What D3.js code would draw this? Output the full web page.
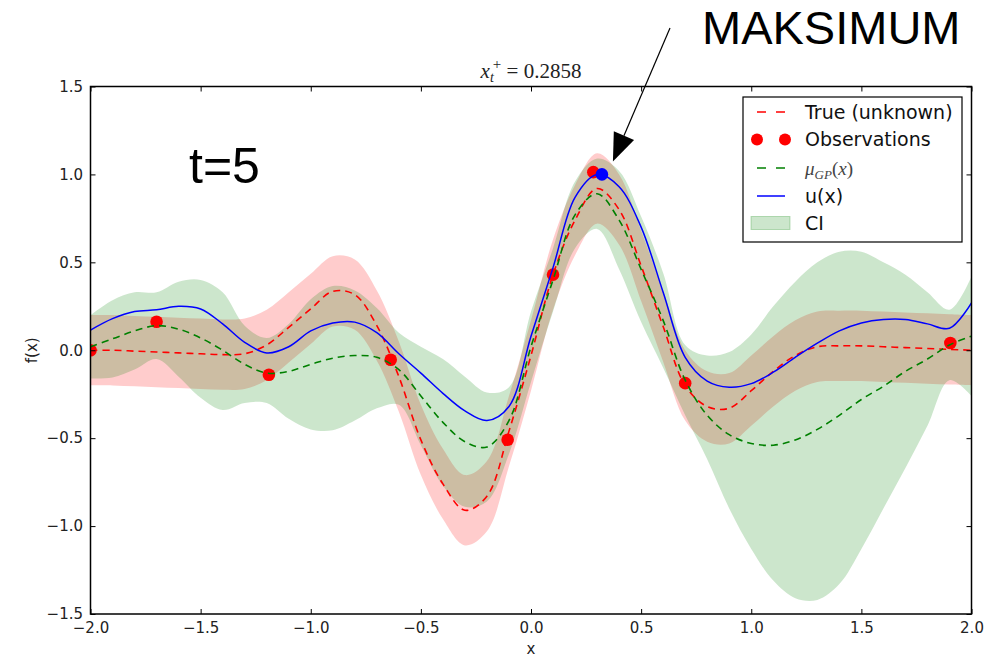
<!DOCTYPE html>
<html>
<head>
<meta charset="utf-8">
<script src="https://cdn.jsdelivr.net/npm/d3@7"></script>
<style>
  body { margin: 0; background: #fff; }
  svg { display: block; }
</style>
</head>
<body>
<div id="chart"></div>
<script>
// sample grid for all curves
var xGrid = [-2.0, -1.9, -1.8, -1.7, -1.6, -1.5, -1.4, -1.3, -1.2, -1.1,
             -1.0, -0.9, -0.8, -0.7, -0.6, -0.5, -0.4, -0.3, -0.2, -0.1,
              0.0,  0.1,  0.2,  0.3,  0.4,  0.5,  0.6,  0.7,  0.8,  0.9,
              1.0,  1.1,  1.2,  1.3,  1.4,  1.5,  1.6,  1.7,  1.8,  1.9, 2.0];

// true (unknown) function
var trueY = [0.0, 0.0, -0.005, -0.01, -0.015, -0.02, -0.025, -0.02, 0.03, 0.13,
             0.235, 0.335, 0.316, 0.14, -0.15, -0.51, -0.76, -0.91, -0.83, -0.46,
             -0.03, 0.43, 0.74, 0.92, 0.80, 0.48, 0.135, -0.2, -0.32, -0.33,
             -0.23, -0.12, -0.03, 0.02, 0.025, 0.025, 0.02, 0.015, 0.01, 0.005, 0.0];
// noise band around the true function (pink)
var trueUpper = [0.2, 0.2, 0.195, 0.19, 0.185, 0.18, 0.175, 0.18, 0.23, 0.33,
                 0.435, 0.535, 0.516, 0.34, 0.05, -0.31, -0.56, -0.71, -0.63, -0.26,
                 0.17, 0.63, 0.94, 1.12, 1.0, 0.68, 0.335, 0.0, -0.12, -0.13,
                 -0.03, 0.08, 0.17, 0.22, 0.225, 0.225, 0.22, 0.215, 0.21, 0.205, 0.2];
var trueLower = [-0.2, -0.2, -0.205, -0.21, -0.215, -0.22, -0.225, -0.22, -0.17, -0.07,
                 0.035, 0.135, 0.116, -0.06, -0.35, -0.71, -0.96, -1.11, -1.03, -0.66,
                 -0.23, 0.23, 0.54, 0.72, 0.6, 0.28, -0.065, -0.4, -0.52, -0.53,
                 -0.43, -0.32, -0.23, -0.18, -0.175, -0.175, -0.18, -0.185, -0.19, -0.195, -0.2];

// GP mean
var muGP = [0.02, 0.065, 0.11, 0.14, 0.12, 0.07, 0.0, -0.08, -0.13, -0.12,
            -0.08, -0.045, -0.03, -0.04, -0.11, -0.26, -0.41, -0.52, -0.55, -0.40,
            0.02, 0.40, 0.77, 0.89, 0.74, 0.46, 0.17, -0.17, -0.37, -0.48,
            -0.53, -0.54, -0.51, -0.45, -0.37, -0.28, -0.205, -0.12, -0.05, 0.03, 0.08];

// acquisition u(x)
var uX = [0.115, 0.18, 0.22, 0.23, 0.25, 0.235, 0.15, 0.045, -0.015, 0.02,
          0.11, 0.155, 0.16, 0.10, -0.02, -0.13, -0.245, -0.345, -0.40, -0.32,
          0.08, 0.47, 0.87, 1.0, 0.93, 0.70, 0.33, -0.04, -0.175, -0.21,
          -0.19, -0.125, -0.04, 0.04, 0.11, 0.155, 0.175, 0.175, 0.15, 0.125, 0.27];

// confidence interval
var ciLower = [-0.16, -0.155, -0.11, -0.05, -0.15, -0.27, -0.34, -0.30, -0.30, -0.39,
               -0.45, -0.455, -0.40, -0.33, -0.31, -0.54, -0.77, -0.89, -0.86, -0.59,
               -0.18, 0.22, 0.58, 0.69, 0.46, 0.16, -0.10, -0.37, -0.62, -0.90,
               -1.13, -1.31, -1.41, -1.42, -1.33, -1.13, -0.90, -0.67, -0.43, -0.17, -0.26];
var ciUpper = [0.20, 0.285, 0.33, 0.33, 0.39, 0.40, 0.33, 0.14, 0.07, 0.15,
               0.29, 0.365, 0.34, 0.24, 0.10, 0.02, -0.05, -0.15, -0.24, -0.21,
               0.22, 0.58, 0.96, 1.09, 1.02, 0.76, 0.44, 0.03, -0.03, -0.01,
               0.09, 0.25, 0.39, 0.50, 0.56, 0.56, 0.50, 0.43, 0.33, 0.23, 0.42];

// observations
var obsX = [-2.0, -1.70, -1.19, -0.637, -0.106, 0.10, 0.283, 0.70, 1.904];
var obsY = [0.0, 0.162, -0.139, -0.054, -0.509, 0.43, 1.013, -0.187, 0.041];

// proposed maximum
var bestX = [0.322];
var bestY = [1.0];

var xTicks = [-2.0, -1.5, -1.0, -0.5, 0.0, 0.5, 1.0, 1.5, 2.0];
var yTicks = [-1.5, -1.0, -0.5, 0.0, 0.5, 1.0, 1.5];

var width = 1000, height = 657;
var plot = { left: 90.5, right: 971.5, top: 86.5, bottom: 614 };

var svg = d3.select("#chart").append("svg")
    .attr("width", width)
    .attr("height", height)
    .style("background", "#fff");

var x = d3.scaleLinear().domain([-2, 2]).range([plot.left, plot.right]);
var y = d3.scaleLinear().domain([-1.5, 1.5]).range([plot.bottom, plot.top]);

svg.append("clipPath").attr("id", "clip")
   .append("rect")
   .attr("x", plot.left).attr("y", plot.top)
   .attr("width", plot.right - plot.left)
   .attr("height", plot.bottom - plot.top);

var g = svg.append("g").attr("clip-path", "url(#clip)");

function bandRows(lo, hi) {
    return xGrid.map(function(v, i) { return { x: v, lo: lo[i], hi: hi[i] }; });
}
function lineRows(vals) {
    return xGrid.map(function(v, i) { return { x: v, y: vals[i] }; });
}

var area = d3.area()
    .x(function(d) { return x(d.x); })
    .y0(function(d) { return y(d.lo); })
    .y1(function(d) { return y(d.hi); })
    .curve(d3.curveCatmullRom);

var line = d3.line()
    .x(function(d) { return x(d.x); })
    .y(function(d) { return y(d.y); })
    .curve(d3.curveCatmullRom);

// bands
g.append("path").datum(bandRows(trueLower, trueUpper))
 .attr("d", area).attr("fill", "red").attr("fill-opacity", 0.2);
g.append("path").datum(bandRows(ciLower, ciUpper))
 .attr("d", area).attr("fill", "green").attr("fill-opacity", 0.2);

// true function
g.append("path").datum(lineRows(trueY))
 .attr("d", line).attr("fill", "none")
 .attr("stroke", "red").attr("stroke-width", 1.6).attr("stroke-dasharray", "7,5");

// observations
g.selectAll(".obs").data(obsX).enter().append("circle")
 .attr("class", "obs")
 .attr("cx", function(d) { return x(d); })
 .attr("cy", function(d, i) { return y(obsY[i]); })
 .attr("r", 6.3).attr("fill", "red");

// GP mean
g.append("path").datum(lineRows(muGP))
 .attr("d", line).attr("fill", "none")
 .attr("stroke", "green").attr("stroke-width", 1.6).attr("stroke-dasharray", "7,5");

// u(x)
g.append("path").datum(lineRows(uX))
 .attr("d", line).attr("fill", "none")
 .attr("stroke", "blue").attr("stroke-width", 1.5);

// maximum
g.selectAll(".best").data(bestX).enter().append("circle")
 .attr("class", "best")
 .attr("cx", function(d) { return x(d); })
 .attr("cy", function(d, i) { return y(bestY[i]); })
 .attr("r", 6.3).attr("fill", "blue");

// axes (ticks inward on all sides)
function styleAxis(sel) {
    sel.select(".domain").remove();
    sel.selectAll(".tick line").attr("stroke", "#000");
    sel.selectAll(".tick text")
       .attr("font-family", "DejaVu Sans").attr("font-size", 15).attr("fill", "#222");
}
svg.append("g").attr("transform", "translate(0," + plot.bottom + ")")
   .call(d3.axisBottom(x).tickValues(xTicks).tickFormat(d3.format(".1f"))
         .tickSizeInner(-5).tickSizeOuter(0).tickPadding(8))
   .call(styleAxis);
svg.append("g").attr("transform", "translate(" + plot.left + ",0)")
   .call(d3.axisLeft(y).tickValues(yTicks).tickFormat(d3.format(".1f"))
         .tickSizeInner(-5).tickSizeOuter(0).tickPadding(7.5))
   .call(styleAxis);
svg.append("g").attr("transform", "translate(0," + plot.top + ")")
   .call(d3.axisTop(x).tickValues(xTicks).tickFormat("").tickSizeInner(-5).tickSizeOuter(0))
   .call(styleAxis);
svg.append("g").attr("transform", "translate(" + plot.right + ",0)")
   .call(d3.axisRight(y).tickValues(yTicks).tickFormat("").tickSizeInner(-5).tickSizeOuter(0))
   .call(styleAxis);

// frame
svg.append("rect")
   .attr("x", plot.left).attr("y", plot.top)
   .attr("width", plot.right - plot.left).attr("height", plot.bottom - plot.top)
   .attr("fill", "none").attr("stroke", "#000").attr("stroke-width", 1.5);

// axis labels
svg.append("text").attr("x", (plot.left + plot.right) / 2).attr("y", 653.5)
   .attr("text-anchor", "middle").attr("font-family", "DejaVu Sans")
   .attr("font-size", 15).attr("fill", "#222").text("x");
svg.append("text")
   .attr("transform", "translate(37," + y(0) + ") rotate(-90)")
   .attr("text-anchor", "middle").attr("font-family", "DejaVu Sans")
   .attr("font-size", 15).attr("fill", "#222").text("f(x)");

// title x_t^+ = 0.2858
var title = svg.append("text").attr("x", (plot.left + plot.right) / 2).attr("y", 78)
   .attr("text-anchor", "middle").attr("font-family", "Liberation Serif")
   .attr("font-size", 21).attr("fill", "#222");
title.append("tspan").attr("font-style", "italic").text("x");
title.append("tspan").attr("font-style", "italic").attr("font-size", 14).attr("dy", 4).text("t");
title.append("tspan").attr("font-size", 15).attr("dx", -1).attr("dy", -13).text("+");
title.append("tspan").attr("dy", 9).text(" = 0.2858");

// t=5 note
svg.append("text").attr("x", 189).attr("y", 183)
   .attr("font-family", "Liberation Sans").attr("font-size", 50).attr("fill", "#000")
   .text("t=5");

// MAKSIMUM annotation with arrow
svg.append("text").attr("x", 702).attr("y", 44)
   .attr("font-family", "Liberation Sans").attr("font-size", 47).attr("fill", "#000")
   .text("MAKSIMUM");

var tip = [x(bestX[0]) + 11, y(bestY[0]) - 13];
var tail = [670, 28];
var dx = tip[0] - tail[0], dy = tip[1] - tail[1];
var len = Math.sqrt(dx * dx + dy * dy);
var ux = dx / len, uy = dy / len;
var headLen = 28, headHalf = 11;
var base = [tip[0] - ux * headLen, tip[1] - uy * headLen];
svg.append("line")
   .attr("x1", tail[0]).attr("y1", tail[1])
   .attr("x2", base[0]).attr("y2", base[1])
   .attr("stroke", "#000").attr("stroke-width", 1.2);
svg.append("path")
   .attr("d", "M" + tip[0] + "," + tip[1] +
              "L" + (base[0] + uy * headHalf) + "," + (base[1] - ux * headHalf) +
              "L" + (base[0] - uy * headHalf) + "," + (base[1] + ux * headHalf) + "Z")
   .attr("fill", "#000");

// legend
var legend = svg.append("g").attr("transform", "translate(743,97)");
legend.append("rect").attr("width", 219).attr("height", 145)
      .attr("fill", "#fff").attr("stroke", "#000").attr("stroke-width", 1.2);

var rows = [15, 42.5, 71, 99, 126];
var hx0 = 14, hx1 = 42, tx = 62;

legend.append("line").attr("x1", hx0).attr("x2", hx1).attr("y1", rows[0]).attr("y2", rows[0])
      .attr("stroke", "red").attr("stroke-width", 1.6).attr("stroke-dasharray", "9,10");
legend.selectAll(".lgdot").data([hx0, hx1]).enter().append("circle")
      .attr("cx", function(d) { return d; }).attr("cy", rows[1])
      .attr("r", 6).attr("fill", "red");
legend.append("line").attr("x1", hx0).attr("x2", hx1).attr("y1", rows[2]).attr("y2", rows[2])
      .attr("stroke", "green").attr("stroke-width", 1.6).attr("stroke-dasharray", "9,10");
legend.append("line").attr("x1", hx0).attr("x2", hx1).attr("y1", rows[3]).attr("y2", rows[3])
      .attr("stroke", "blue").attr("stroke-width", 1.5);
legend.append("rect").attr("x", 8).attr("y", rows[4] - 6.5).attr("width", 39).attr("height", 13)
      .attr("fill", "green").attr("fill-opacity", 0.2)
      .attr("stroke", "green").attr("stroke-opacity", 0.25);

var labels = ["True (unknown)", "Observations", null, "u(x)", "CI"];
labels.forEach(function(l, i) {
    if (l === null) return;
    legend.append("text").attr("x", tx).attr("y", rows[i]).attr("dy", "0.36em")
          .attr("font-family", "DejaVu Sans").attr("font-size", 19).attr("fill", "#111")
          .text(l);
});
var mu = legend.append("text").attr("x", tx).attr("y", rows[2]).attr("dy", "0.36em")
      .attr("font-family", "Liberation Serif").attr("font-size", 19).attr("fill", "#444");
mu.append("tspan").attr("font-style", "italic").text("μ");
mu.append("tspan").attr("font-style", "italic").attr("font-size", 13).attr("dy", 4).text("GP");
mu.append("tspan").attr("dy", -4).text("(");
mu.append("tspan").attr("font-style", "italic").text("x");
mu.append("tspan").text(")");
</script>
</body>
</html>
